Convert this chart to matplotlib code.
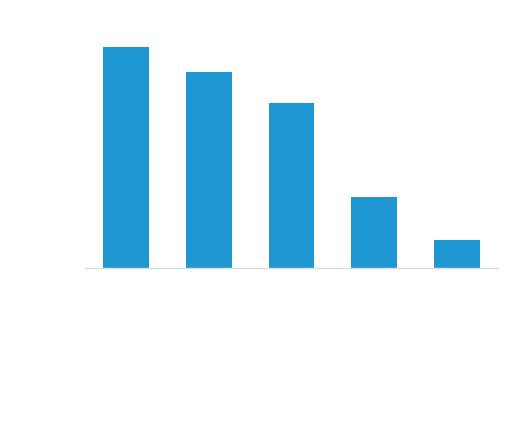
import matplotlib
matplotlib.use('Agg')
import matplotlib.pyplot as plt

# data -----------------------------------
categories = ['A', 'B', 'C', 'D', 'E']
values = [221, 196, 165, 71, 28]

# figure ---------------------------------
fig = plt.figure(figsize=(5.13, 4.24), dpi=100)
ax = fig.add_axes([85 / 513, 156 / 424, 413 / 513, 240 / 424])

ax.bar(range(len(categories)), values, width=0.555, color='#1e96d2')

ax.set_xlim(-0.5, len(categories) - 0.5)
ax.set_ylim(0, 240)

for side in ['top', 'right', 'left']:
    ax.spines[side].set_visible(False)
ax.spines['bottom'].set_color('#dcdcdc')
ax.spines['bottom'].set_linewidth(1)
ax.set_xticks([])
ax.set_yticks([])

fig.savefig('out.png', dpi=100)
